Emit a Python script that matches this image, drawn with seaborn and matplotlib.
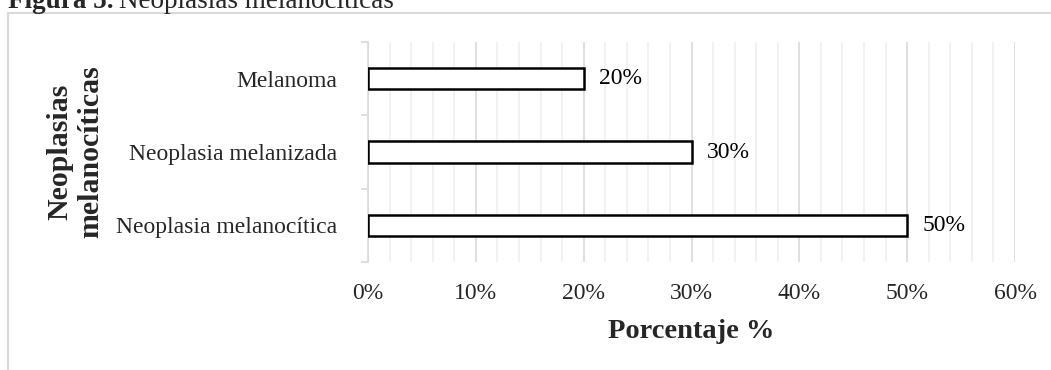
import matplotlib
matplotlib.use("Agg")
import matplotlib.pyplot as plt
from matplotlib.ticker import MultipleLocator, FixedLocator, PercentFormatter
from matplotlib.lines import Line2D
import seaborn as sns
import pandas as pd

# Data
categories = ["Melanoma", "Neoplasia melanizada", "Neoplasia melanocítica"]
percentages = [0.20, 0.30, 0.50]
x_ticks = [0.0, 0.1, 0.2, 0.3, 0.4, 0.5, 0.6]

df = pd.DataFrame({"categoria": categories, "porcentaje": percentages})

sns.set_style("white")
plt.rcParams["font.family"] = ["Liberation Serif", "DejaVu Serif"]

W, H = 1051, 370
fig = plt.figure(figsize=(W / 100, H / 100), dpi=100)
ax = fig.add_axes([368 / W, 1 - 262 / H, (1015 - 368) / W, (262 - 42) / H])

sns.barplot(data=df, x="porcentaje", y="categoria", orient="h",
            color="white", edgecolor="black", linewidth=1.8, width=0.29,
            ax=ax, zorder=3)

# Value labels at the bar ends
for cont in ax.containers:
    ax.bar_label(cont, labels=[f"{v:.0%}" for v in cont.datavalues],
                 padding=11, fontsize=17, color="#000000")

ax.set_xlim(x_ticks[0], x_ticks[-1])
ax.set_ylim(2.5, -0.5)
ax.xaxis.set_major_locator(FixedLocator(x_ticks))
ax.xaxis.set_minor_locator(MultipleLocator(0.02))
ax.xaxis.set_major_formatter(PercentFormatter(xmax=1, decimals=0))

# Gridlines: light minor, darker major
ax.grid(axis="x", which="minor", color="#f0f0f0", linewidth=1.2, zorder=0)
ax.grid(axis="x", which="major", color="#d9d9d9", linewidth=1.2, zorder=0)
ax.grid(axis="y", visible=False)
ax.set_axisbelow(True)

# Category separators on the left spine
ax.yaxis.set_minor_locator(FixedLocator([-0.5, 0.5, 1.5, 2.5]))
ax.tick_params(axis="y", which="minor", length=5, width=1.2, color="#d9d9d9", left=True)
ax.tick_params(axis="y", which="major", length=0, pad=22, labelsize=17)
ax.tick_params(axis="x", which="both", length=0, pad=15, labelsize=17)
ax.tick_params(axis="x", which="minor", bottom=False)

for side in ["top", "right", "bottom"]:
    ax.spines[side].set_visible(False)
ax.spines["left"].set_color("#d9d9d9")
ax.spines["left"].set_linewidth(1.2)

ax.set_xlabel("Porcentaje %", fontsize=20.5, fontweight="bold")
ax.xaxis.set_label_coords(0.5, -(338 - 262) / 220)
ax.xaxis.label.set_va("baseline")

ax.set_ylabel("Neoplasias\nmelanocíticas", fontsize=21.5, fontweight="bold",
              linespacing=1.2)
ax.yaxis.set_label_coords((75 - 368) / 647, (262 - 152) / 220)
ax.yaxis.label.set_va("center")

# Chart frame
fig.add_artist(Line2D([8 / W, 8 / W], [0, 1 - 13 / H], transform=fig.transFigure,
                      color="#d9d9d9", linewidth=1.5))
fig.add_artist(Line2D([8 / W, 1], [1 - 13 / H, 1 - 13 / H], transform=fig.transFigure,
                      color="#d9d9d9", linewidth=1.5))

# Caption
t1 = fig.text(8 / W, 1 - 8 / H, "Figura 5.", fontsize=19.5, fontweight="bold",
              ha="left", va="baseline")
fig.canvas.draw()
bb = t1.get_window_extent()
fig.text((bb.x1 + 5) / W, 1 - 8 / H, "Neoplasias melanocíticas", fontsize=19.5,
         ha="left", va="baseline")

fig.savefig("out.png", dpi=100)
